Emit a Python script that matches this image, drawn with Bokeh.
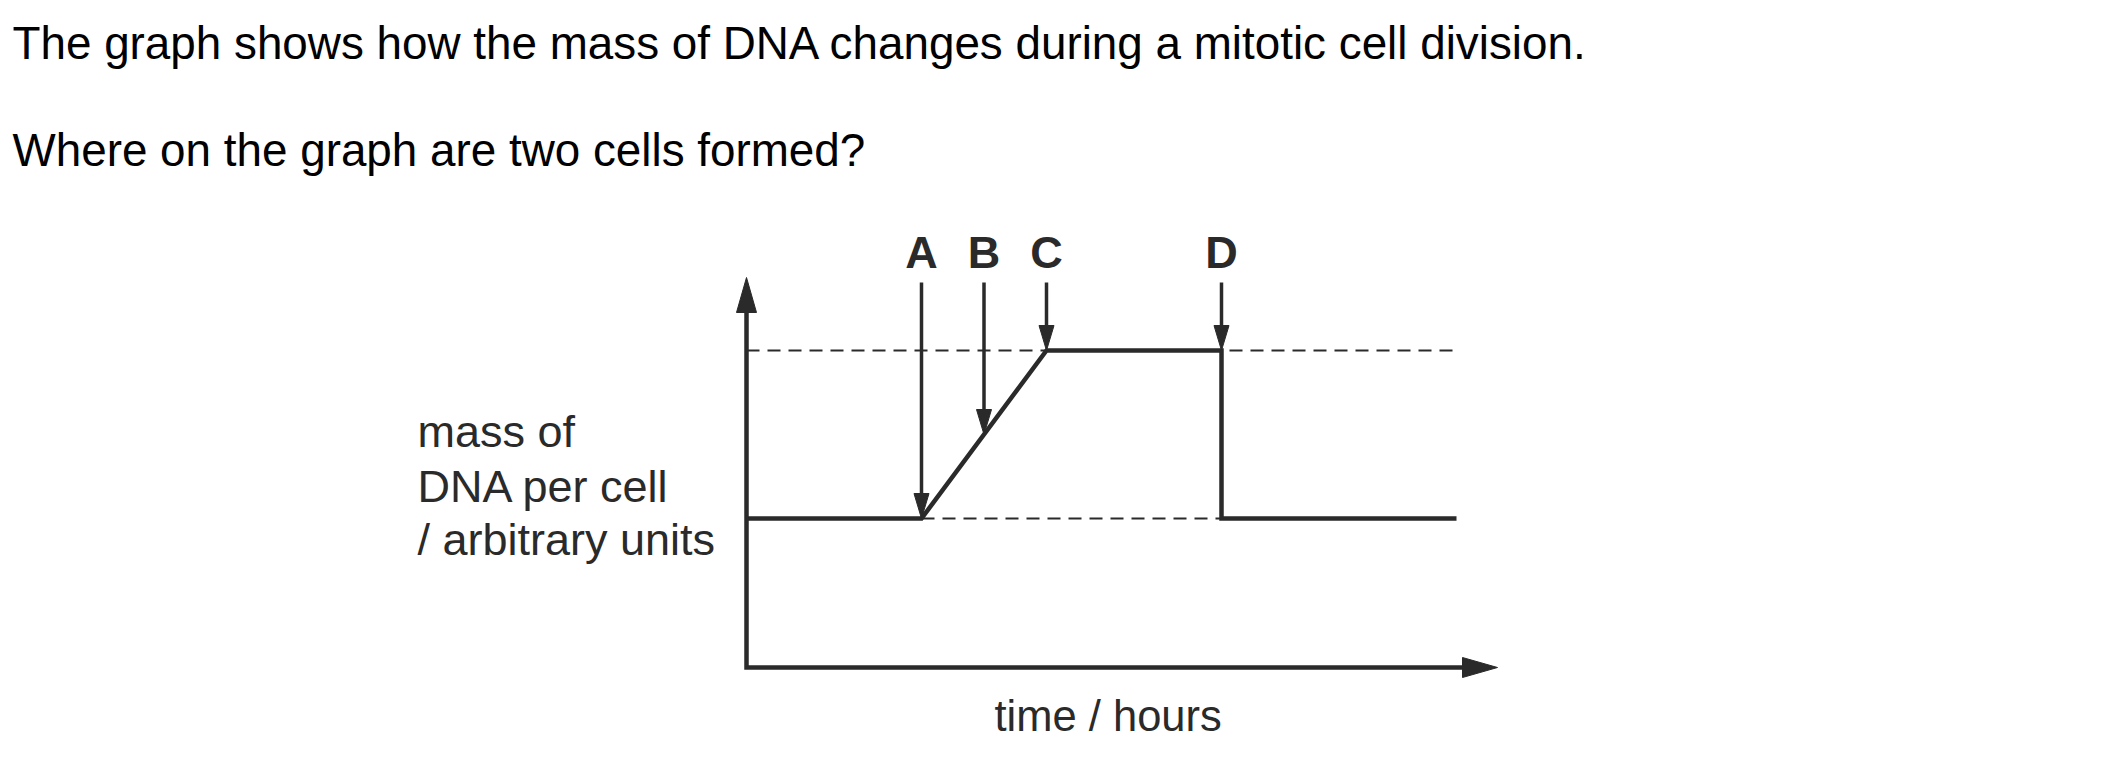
from bokeh.plotting import figure
from bokeh.models import Range1d
from bokeh.core.properties import value
from bokeh.embed import file_html
from bokeh.resources import INLINE

# ---------------- data ----------------
title_lines = [
    "The graph shows how the mass of DNA changes during a mitotic cell division.",
    "Where on the graph are two cells formed?",
]
# DNA mass per cell (arbitrary units) against time (arbitrary hour units)
time = [0, 7, 12, 19, 19, 28.4]
dna_mass = [1.49, 1.49, 3.17, 3.17, 1.49, 1.49]

# dashed reference levels
upper_ref_time = [0, 28.4]
upper_ref_mass = [3.17, 3.17]
lower_ref_time = [7, 19]
lower_ref_mass = [1.49, 1.49]

# labelled arrows A-D and the points they mark
marker_labels = ["A", "B", "C", "D"]
marker_time = [7, 9.5, 12, 19]
marker_mass = [1.49, 2.33, 3.17, 3.17]

# axis extents
x_axis_end = 30.04
y_axis_end = 3.9

y_label_lines = ["mass of", "DNA per cell", "/ arbitrary units"]
x_label = "time / hours"

# ---------------- layout (pixels) ----------------
W, H = 2085, 745
ORIGIN_PX = (746, 667)    # screen pixel of time=0, mass=0
PX_T, PX_M = 25.0, 100.0  # pixels per unit


def X(px):
    return (px - ORIGIN_PX[0]) / PX_T


def Y(py):
    return (ORIGIN_PX[1] - py) / PX_M


def TY(baseline_px, fs):
    # place text so that its alphabetic baseline lands on baseline_px
    return Y(baseline_px - 0.36 * fs)


FONT = value("Liberation Sans")
INK = "#2a2a2a"

p = figure(
    width=W, height=H,
    x_range=Range1d(X(0), X(W)),
    y_range=Range1d(Y(H), Y(0)),
    x_axis_type=None, y_axis_type=None,
    toolbar_location=None, output_backend="svg",
    min_border=0,
)
p.outline_line_color = None
p.grid.visible = False
p.background_fill_color = "white"
p.border_fill_color = "white"

# ---- question text ----
FS_T = 45.8
p.text(x=[X(12), X(12)], y=[TY(59, FS_T), TY(166, FS_T)], text=title_lines,
       text_font=FONT, text_font_size=f"{FS_T}px", text_color="black",
       text_baseline="alphabetic", text_align="left")

# ---- dashed reference lines ----
p.line(upper_ref_time, upper_ref_mass, line_color=INK, line_width=2,
       line_dash="13 8")
p.line(lower_ref_time, lower_ref_mass, line_color=INK, line_width=2,
       line_dash="13 8")

# ---- axes (L shape with arrow heads) ----
AX_HEAD_L, AX_HEAD_W = 35, 20
p.line([0, 0, x_axis_end - AX_HEAD_L / PX_T + 0.1],
       [y_axis_end - AX_HEAD_L / PX_M + 0.02, 0, 0],
       line_color=INK, line_width=4.5, line_join="miter")
p.patches(
    xs=[[0 - AX_HEAD_W / 2 / PX_T, 0 + AX_HEAD_W / 2 / PX_T, 0],
        [x_axis_end - AX_HEAD_L / PX_T, x_axis_end - AX_HEAD_L / PX_T, x_axis_end]],
    ys=[[y_axis_end - AX_HEAD_L / PX_M, y_axis_end - AX_HEAD_L / PX_M, y_axis_end],
        [0 - AX_HEAD_W / 2 / PX_M, 0 + AX_HEAD_W / 2 / PX_M, 0]],
    fill_color=INK, line_color=INK, line_width=1)

# ---- DNA mass curve ----
p.line(time, dna_mass, line_color=INK, line_width=4.5, line_join="miter")

# ---- labelled arrows ----
ARR_TOP = Y(282)
HEAD_L, HEAD_W = 25, 15
p.segment(x0=marker_time, y0=[ARR_TOP] * 4, x1=marker_time,
          y1=[m + (HEAD_L - 2) / PX_M for m in marker_mass],
          line_color=INK, line_width=3.5)
p.patches(
    xs=[[t - HEAD_W / 2 / PX_T, t + HEAD_W / 2 / PX_T, t] for t in marker_time],
    ys=[[m + HEAD_L / PX_M, m + HEAD_L / PX_M, m] for m in marker_mass],
    fill_color=INK, line_color=INK, line_width=1)
FS_L = 45
p.text(x=marker_time, y=[TY(268, FS_L)] * 4, text=marker_labels,
       text_font=FONT, text_font_size=f"{FS_L}px", text_font_style="bold",
       text_color=INK, text_align="center", text_baseline="alphabetic")

# ---- axis labels ----
FS_A = 45
p.text(x=[X(417)] * 3, y=[TY(447, FS_A), TY(502, FS_A), TY(555, FS_A)],
       text=y_label_lines,
       text_font=FONT, text_font_size=f"{FS_A}px", text_color=INK,
       text_align="left", text_baseline="alphabetic")
FS_X = 43.5
p.text(x=[X(994)], y=[TY(731, FS_X)], text=[x_label],
       text_font=FONT, text_font_size=f"{FS_X}px", text_color=INK,
       text_align="left", text_baseline="alphabetic")

open("out.html", "w").write(file_html(p, INLINE))
